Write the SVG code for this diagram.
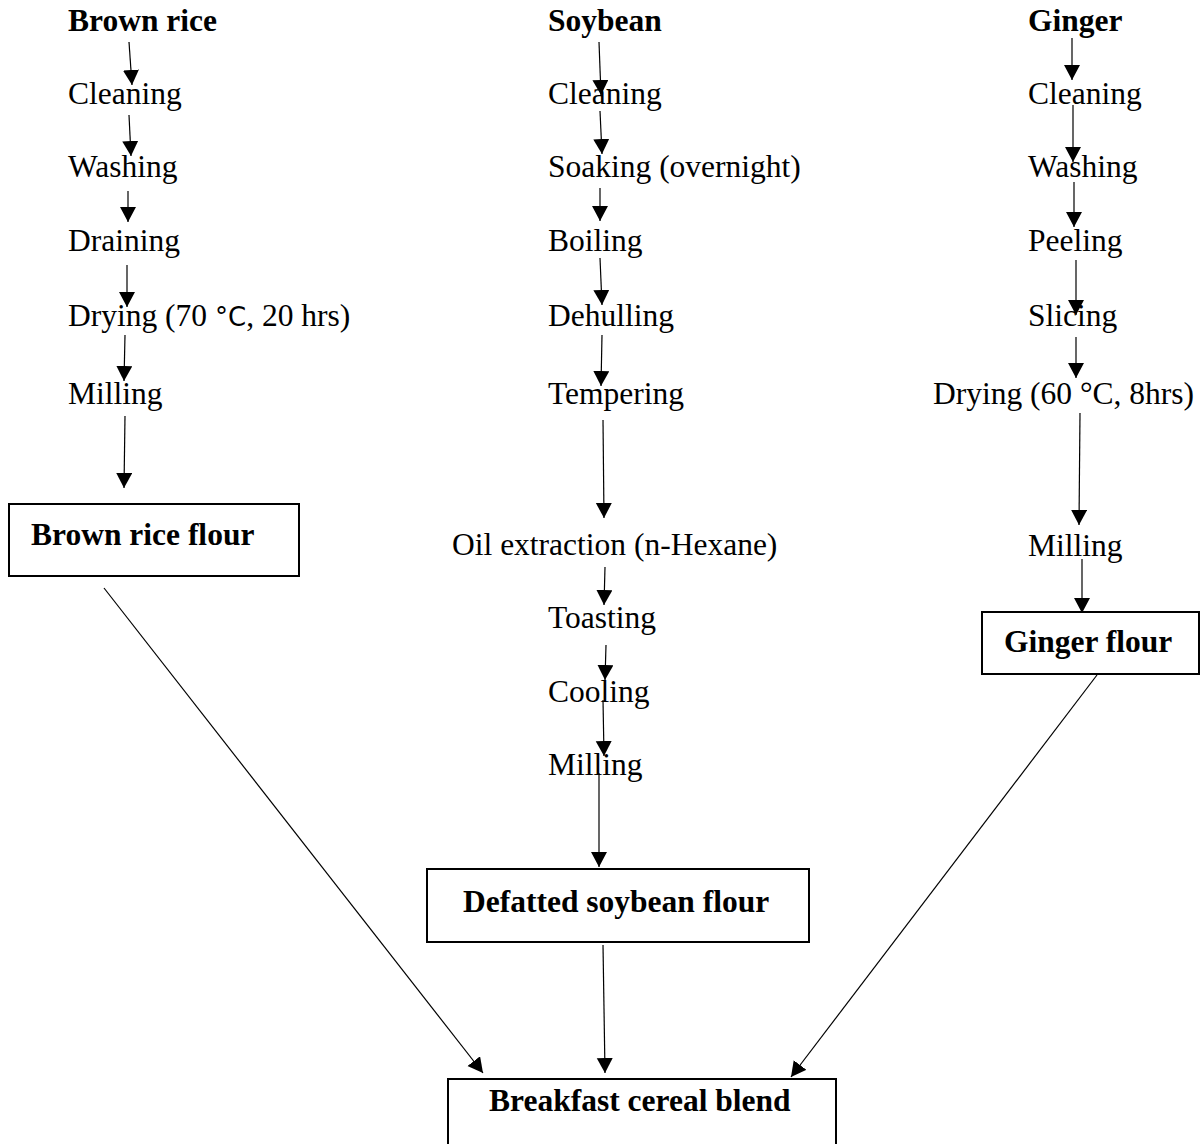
<svg xmlns="http://www.w3.org/2000/svg" width="1200" height="1144" viewBox="0 0 1200 1144">
<style>
text{font-family:"Liberation Serif","Times New Roman",serif;font-size:31.5px;fill:#000}
.b{font-weight:bold}
.box{fill:#fff;stroke:#000;stroke-width:2}
.c line{stroke:#000;stroke-width:1.2;marker-end:url(#ah)}
.sans{font-family:"DejaVu Sans","Liberation Sans",sans-serif;font-size:26px}
</style>
<defs>
<marker id="ah" markerUnits="userSpaceOnUse" markerWidth="18" markerHeight="18" refX="15" refY="8" orient="auto">
<path d="M0,0 L15,8 L0,16 z" fill="#000"/>
</marker>
</defs>
<rect width="1200" height="1144" fill="#fff"/>
<g id="brown-rice">
<text x="68" y="31" class="b">Brown rice</text>
<text x="68" y="104">Cleaning</text>
<text x="68" y="177">Washing</text>
<text x="68" y="251">Draining</text>
<text x="68" y="326">Drying (70 <tspan class="sans">°C</tspan>, 20 hrs)</text>
<text x="68" y="404">Milling</text>
</g>
<g id="brown-rice-flour"><rect class="box" x="9" y="504" width="290" height="72"/><text x="31" y="545" class="b">Brown rice flour</text></g>
<g id="soybean">
<text x="548" y="31" class="b">Soybean</text>
<text x="548" y="104">Cleaning</text>
<text x="548" y="177">Soaking (overnight)</text>
<text x="548" y="251">Boiling</text>
<text x="548" y="326">Dehulling</text>
<text x="548" y="404">Tempering</text>
<text x="452" y="555">Oil extraction (n-Hexane)</text>
<text x="548" y="628">Toasting</text>
<text x="548" y="702">Cooling</text>
<text x="548" y="775">Milling</text>
</g>
<g id="defatted-soybean-flour"><rect class="box" x="427" y="869" width="382" height="73"/><text x="463" y="912" class="b">Defatted soybean flour</text></g>
<g id="ginger">
<text x="1028" y="31" class="b">Ginger</text>
<text x="1028" y="104">Cleaning</text>
<text x="1028" y="177">Washing</text>
<text x="1028" y="251">Peeling</text>
<text x="1028" y="326">Slicing</text>
<text x="933" y="404">Drying (60 °C, 8hrs)</text>
<text x="1028" y="556">Milling</text>
</g>
<g id="ginger-flour"><rect class="box" x="982" y="612" width="217" height="62"/><text x="1004" y="652" class="b">Ginger flour</text></g>
<g id="breakfast-cereal-blend"><rect class="box" x="448" y="1079" width="388" height="80"/><text x="489" y="1111" class="b">Breakfast cereal blend</text></g>
<g id="connectors" class="c">
<line x1="129" y1="42" x2="132" y2="85"/>
<line x1="129" y1="115" x2="131" y2="156"/>
<line x1="128" y1="191" x2="128" y2="222"/>
<line x1="127" y1="265" x2="127" y2="307"/>
<line x1="125" y1="335" x2="124" y2="381"/>
<line x1="125" y1="416" x2="124" y2="488"/>
<line x1="599" y1="42" x2="601" y2="95"/>
<line x1="600" y1="111" x2="602" y2="154"/>
<line x1="600" y1="188" x2="600" y2="221"/>
<line x1="600" y1="258" x2="602" y2="305"/>
<line x1="602" y1="335" x2="601" y2="386"/>
<line x1="603" y1="420" x2="604" y2="518"/>
<line x1="605" y1="567" x2="604" y2="605"/>
<line x1="606" y1="645" x2="605" y2="680"/>
<line x1="603" y1="700" x2="604" y2="756"/>
<line x1="599" y1="773" x2="599" y2="867"/>
<line x1="603" y1="945" x2="605" y2="1073"/>
<line x1="1072" y1="38" x2="1072" y2="80"/>
<line x1="1073" y1="105" x2="1073" y2="162"/>
<line x1="1074" y1="182" x2="1074" y2="227"/>
<line x1="1076" y1="260" x2="1076" y2="315"/>
<line x1="1076" y1="337" x2="1076" y2="378"/>
<line x1="1080" y1="413" x2="1079" y2="525"/>
<line x1="1082" y1="559" x2="1082" y2="613"/>
<line x1="104" y1="588" x2="483" y2="1073"/>
<line x1="1097" y1="675" x2="791" y2="1077"/>
</g>
</svg>
